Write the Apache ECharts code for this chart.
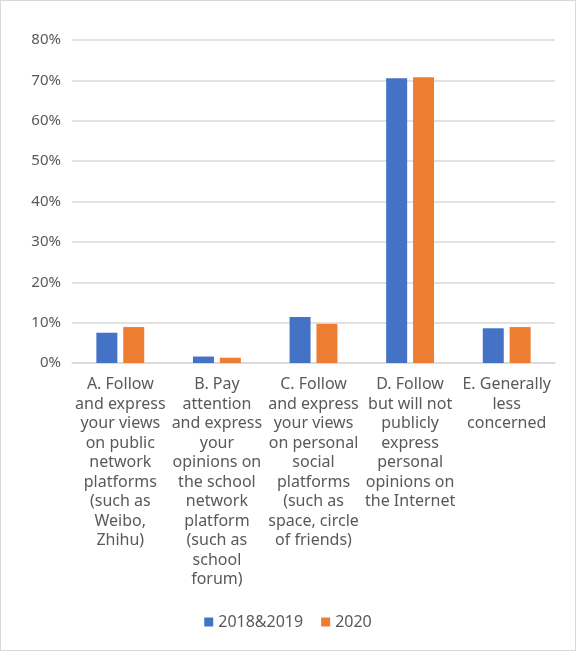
<!DOCTYPE html>
<html>
<head>
<meta charset="utf-8">
<script src="https://cdn.jsdelivr.net/npm/echarts@6/dist/echarts.min.js"></script>
<style>
  html, body { margin: 0; padding: 0; background: #fff; }
  #main { width: 576px; height: 651px; box-sizing: border-box; border: 1px solid #d9d9d9; }
</style>
</head>
<body>
<div id="main"></div>
<script>
// 横轴分类（手动换行，与原图一致）
var categories = [
  "A. Follow\nand express\nyour views\non public\nnetwork\nplatforms\n(such as\nWeibo,\nZhihu)",
  "B. Pay\nattention\nand express\nyour\nopinions on\nthe school\nnetwork\nplatform\n(such as\nschool\nforum)",
  "C. Follow\nand express\nyour views\non personal\nsocial\nplatforms\n(such as\nspace, circle\nof friends)",
  "D. Follow\nbut will not\npublicly\nexpress\npersonal\nopinions on\nthe Internet",
  "E. Generally\nless\nconcerned"
];
var seriesNames = ["2018&2019", "2020"];
var values2018 = [7.5, 1.6, 11.4, 70.5, 8.6];
var values2020 = [8.9, 1.3, 9.7, 70.8, 8.9];
var colors = ["#4472C4", "#ED7D31"];

var myChart = echarts.init(document.getElementById("main"));
var font = "'Noto Sans', 'Noto Sans CJK SC', sans-serif";
var option = {
  animation: false,
  textStyle: { fontFamily: font },
  grid: { left: 71, right: 20, top: 39, bottom: 287, containLabel: false },
  legend: {
    data: seriesNames,
    bottom: 15,
    left: "center",
    icon: "rect",
    itemWidth: 9,
    itemHeight: 9,
    itemGap: 18,
    textStyle: { color: "#595959", fontSize: 16, fontFamily: font }
  },
  xAxis: {
    type: "category",
    data: categories,
    axisTick: { show: false },
    axisLine: { lineStyle: { color: "#d9d9d9", width: 1.5 } },
    axisLabel: {
      interval: 0,
      color: "#595959",
      fontSize: 16,
      lineHeight: 19.5,
      margin: 12,
      fontFamily: font
    }
  },
  yAxis: {
    type: "value",
    min: 0,
    max: 80,
    interval: 10,
    axisLine: { show: false },
    axisTick: { show: false },
    splitLine: { lineStyle: { color: "#d9d9d9", width: 1.5 } },
    axisLabel: {
      formatter: "{value}%",
      color: "#595959",
      fontSize: 15,
      margin: 11,
      fontFamily: font
    }
  },
  series: [
    {
      name: seriesNames[0],
      type: "bar",
      data: values2018,
      barWidth: 21,
      barGap: "28%",
      itemStyle: { color: colors[0] }
    },
    {
      name: seriesNames[1],
      type: "bar",
      data: values2020,
      barWidth: 21,
      itemStyle: { color: colors[1] }
    }
  ]
};
myChart.setOption(option);
</script>
</body>
</html>
